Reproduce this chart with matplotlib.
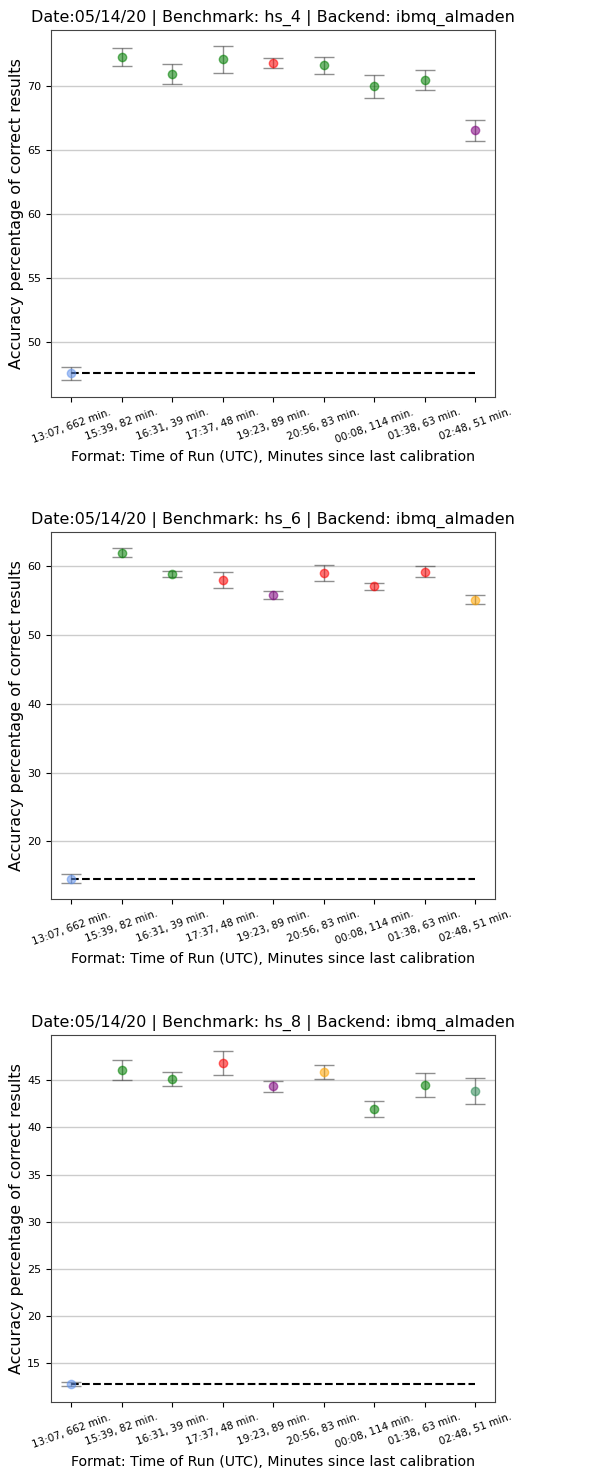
import matplotlib
matplotlib.use("Agg")
import matplotlib.pyplot as plt

run_labels = ["13:07, 662 min.", "15:39, 82 min.", "16:31, 39 min.", "17:37, 48 min.",
              "19:23, 89 min.", "20:56, 83 min.", "00:08, 114 min.", "01:38, 63 min.",
              "02:48, 51 min."]

benchmarks = ["hs_4", "hs_6", "hs_8"]

acc_hs4 = [47.55, 72.29, 71.0, 72.1, 71.82, 71.64, 70.0, 70.47, 66.56]
err_hs4 = [0.5, 0.67, 0.78, 1.05, 0.37, 0.65, 0.9, 0.78, 0.82]
col_hs4 = ["cornflowerblue", "green", "green", "green", "red", "green", "green", "green", "purple"]

acc_hs6 = [14.6, 61.88, 58.8, 57.93, 55.75, 58.94, 57.0, 59.1, 55.1]
err_hs6 = [0.67, 0.68, 0.48, 1.2, 0.6, 1.2, 0.55, 0.8, 0.65]
col_hs6 = ["cornflowerblue", "green", "green", "red", "purple", "red", "red", "red", "orange"]

acc_hs8 = [12.75, 46.1, 45.1, 46.84, 44.36, 45.84, 41.9, 44.5, 43.86]
err_hs8 = [0.2, 1.08, 0.75, 1.3, 0.6, 0.75, 0.85, 1.3, 1.37]
col_hs8 = ["cornflowerblue", "green", "green", "red", "purple", "orange", "green", "green", "seagreen"]

ylims = [(45.7, 74.4), (11.65, 64.9), (10.85, 49.8)]
yticks = [[50, 55, 60, 65, 70], [20, 30, 40, 50, 60], [15, 20, 25, 30, 35, 40, 45]]

fig = plt.figure(figsize=(6.11, 14.74), dpi=100)
tops = [0.9796, 0.6391, 0.2978]
h = 0.249

data = [(acc_hs4, err_hs4, col_hs4), (acc_hs6, err_hs6, col_hs6), (acc_hs8, err_hs8, col_hs8)]

for i, (acc, err, cols) in enumerate(data):
    ax = fig.add_axes([0.0835, tops[i] - h, 0.727, h])
    xs = list(range(len(run_labels)))
    for x, a, e, c in zip(xs, acc, err, cols):
        ax.errorbar(x, a, yerr=e, fmt="o", color=c, alpha=0.55, markersize=6,
                    ecolor=(0.2, 0.2, 0.2, 1.0), elinewidth=1, capsize=7, capthick=1, zorder=3)
    ax.plot([xs[0], xs[-1]], [acc[0], acc[0]], "k--", linewidth=1.5, zorder=2)
    ax.set_xticks(xs)
    ax.set_xticklabels(run_labels, rotation=20, fontsize=7.5)
    ax.set_ylim(*ylims[i])
    ax.set_yticks(yticks[i])
    ax.tick_params(axis="y", labelsize=8)
    ax.grid(axis="y", color="#cccccc", linewidth=1)
    ax.set_axisbelow(True)
    ax.set_title("Date:05/14/20 | Benchmark: %s | Backend: ibmq_almaden" % benchmarks[i], fontsize=11.5)
    ax.set_ylabel("Accuracy percentage of correct results", fontsize=11.5, labelpad=2)
    ax.set_xlabel("Format: Time of Run (UTC), Minutes since last calibration", fontsize=10.2)
    for s in ax.spines.values():
        s.set_color("#444444")

fig.savefig("out.png", dpi=100)
